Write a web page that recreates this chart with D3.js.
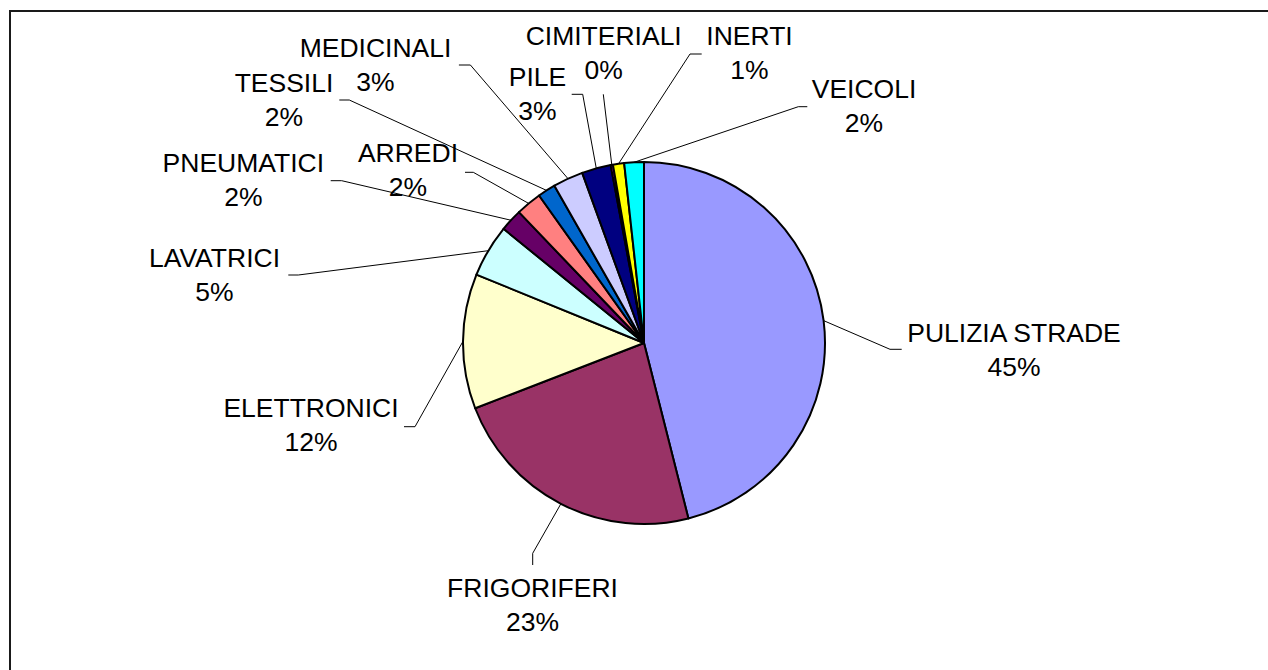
<!DOCTYPE html>
<html>
<head>
<meta charset="utf-8">
<script src="https://cdn.jsdelivr.net/npm/d3@7"></script>
<style>
  html, body { margin: 0; padding: 0; background: #fff; overflow: hidden; }
  svg { display: block; }
  text { font-family: "Liberation Sans", Arial, sans-serif; font-size: 26.5px; fill: #000; }
</style>
</head>
<body>
<svg id="chart" width="1268" height="670"></svg>
<script>
// ---- data ----
const categories = ["PULIZIA STRADE", "FRIGORIFERI", "ELETTRONICI", "LAVATRICI", "PNEUMATICI",
                    "ARREDI", "TESSILI", "MEDICINALI", "PILE", "CIMITERIALI", "INERTI", "VEICOLI"];
const values = [46.1, 23.1, 12.05, 4.7, 2.0, 2.3, 1.6, 2.7, 2.6, 0.2, 1.0, 1.75];
const percentLabels = ["45%", "23%", "12%", "5%", "2%", "2%", "2%", "3%", "3%", "0%", "1%", "2%"];
const colors = ["#9999FF", "#993366", "#FFFFCC", "#CCFFFF", "#660066", "#FF8080",
                "#0066CC", "#CCCCFF", "#000080", "#FF00FF", "#FFFF00", "#00FFFF"];

// ---- layout (label placement, manually positioned as in the original) ----
// [text centre x, first baseline y, elbow x, elbow y, attach x, attach y]
const labelLayout = {
  "PULIZIA STRADE": [1014, 341.7, 890, 349.3, 901.7, 349.3],
  "FRIGORIFERI":    [532.5, 597.3, 532.7, 553.3, 532.7, 565],
  "ELETTRONICI":    [311, 416.7, 415, 426.7, 404, 426.7],
  "LAVATRICI":      [214.5, 266.7, 298.3, 275, 288.3, 275],
  "PNEUMATICI":     [243.3, 171.7, 341.7, 180.7, 330.7, 180.7],
  "ARREDI":         [408, 161.7, 473.3, 172.3, 465, 172.3],
  "TESSILI":        [284, 92.3, 349.3, 100, 339.3, 100],
  "MEDICINALI":     [375.5, 57.3, 470.4, 65, 458.9, 65],
  "PILE":           [537.5, 86, 582.7, 94.3, 571.7, 94.3],
  "CIMITERIALI":    [603.7, 45, 603.3, 94.3, 603.3, 94.3],
  "INERTI":         [749.5, 45, 690, 54, 701.7, 54],
  "VEICOLI":        [864, 98.3, 798.3, 106.7, 807.3, 106.7]
};
const lineGap = 34;

const svg = d3.select("#chart");
const cx = 644, cy = 343, R = 181;

// outer frame (only top and left edges fall inside the picture)
svg.append("path")
  .attr("d", "M10,670 L10,11 L1268,11")
  .attr("fill", "none")
  .attr("stroke", "#1a1a1a").attr("stroke-width", 2);

const data = categories.map((c, i) => ({ name: c, value: values[i], label: percentLabels[i], color: colors[i] }));

const pie = d3.pie().value(d => d.value).sort(null).startAngle(0).endAngle(2 * Math.PI);
const arcs = pie(data);
const arc = d3.arc().innerRadius(0).outerRadius(R);

const g = svg.append("g").attr("transform", `translate(${cx},${cy})`);

g.selectAll("path.slice")
  .data(arcs)
  .join("path")
  .attr("class", "slice")
  .attr("d", arc)
  .attr("fill", d => d.data.color)
  .attr("stroke", "#000")
  .attr("stroke-width", 2)
  .attr("stroke-linejoin", "round");

// leader lines
const leaders = svg.append("g");
arcs.forEach(a => {
  const L = labelLayout[a.data.name];
  const mid = (a.startAngle + a.endAngle) / 2;
  const ex = cx + R * Math.sin(mid);
  const ey = cy - R * Math.cos(mid);
  leaders.append("path")
    .attr("d", d3.line()([[ex, ey], [L[2], L[3]], [L[4], L[5]]]))
    .attr("fill", "none")
    .attr("stroke", "#000")
    .attr("stroke-width", 1);
});

// labels
const labels = svg.append("g");
arcs.forEach(a => {
  const L = labelLayout[a.data.name];
  const t = labels.append("text").attr("text-anchor", "middle");
  t.append("tspan").attr("x", L[0]).attr("y", L[1]).text(a.data.name);
  t.append("tspan").attr("x", L[0]).attr("y", L[1] + lineGap).text(a.data.label);
});
</script>
</body>
</html>
